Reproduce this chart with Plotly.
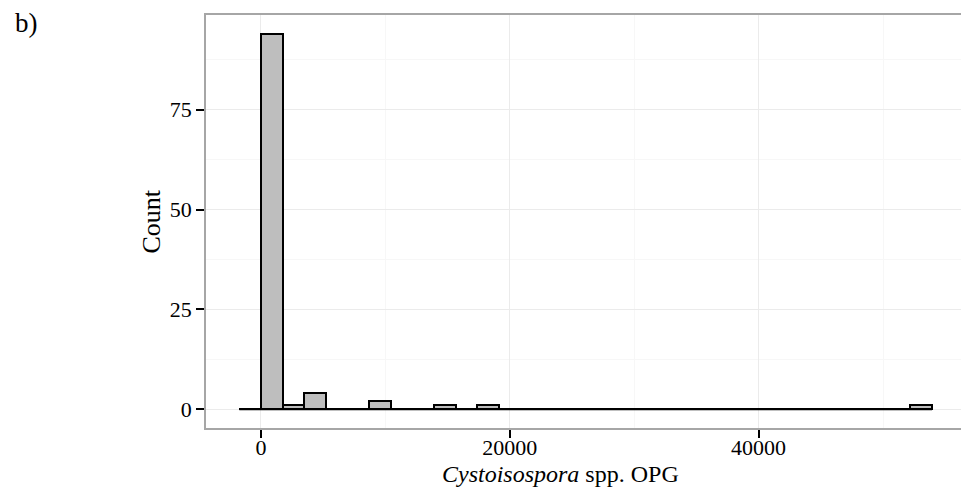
import plotly.graph_objects as go

# Histogram data
bin_start = -1740
bin_width = 1740
counts = [0, 94, 1, 4, 0, 0, 2, 0, 0, 1, 0, 1, 0, 0, 0, 0,
          0, 0, 0, 0, 0, 0, 0, 0, 0, 0, 0, 0, 0, 0, 0, 1]
x_ticks = [0, 20000, 40000]
y_ticks = [0, 25, 50, 75]

centers = [bin_start + (i + 0.5) * bin_width for i in range(len(counts))]
edges_lo = bin_start
edges_hi = bin_start + len(counts) * bin_width

FONT = "Liberation Serif, Times New Roman, serif"
L, R, T, B = 206, 0, 15, 67
W, H = 961, 495
PW, PH = W - L - R, H - T - B

fig = go.Figure()
fig.add_trace(go.Bar(
    x=centers, y=counts, width=bin_width,
    marker=dict(color="#bebebe", line=dict(color="black", width=2)),
    showlegend=False, hoverinfo="skip",
))
fig.add_trace(go.Scatter(
    x=[edges_lo, edges_hi], y=[0, 0], mode="lines",
    line=dict(color="black", width=2), showlegend=False, hoverinfo="skip",
))

fig.update_layout(
    width=W, height=H,
    margin=dict(l=L, r=R, t=T, b=B),
    plot_bgcolor="white", paper_bgcolor="white",
    font=dict(family=FONT, size=22, color="black"),
    bargap=0,
    xaxis=dict(
        range=[-4420, 56270],
        tickvals=x_ticks, ticktext=[str(v) for v in x_ticks],
        ticks="outside", ticklen=8, tickwidth=2, tickcolor="black",
        ticklabelstandoff=-9,
        showgrid=True, gridcolor="#ebebeb", gridwidth=1,
        minor=dict(dtick=10000, tick0=0, showgrid=True, gridcolor="#f7f7f7", gridwidth=1),
        showline=True, linecolor="#a6a6a6", linewidth=1.5, mirror=True,
        zeroline=False,
        tickfont=dict(size=22),
    ),
    yaxis=dict(
        range=[-4.7, 98.7],
        tickvals=y_ticks, ticktext=[str(v) for v in y_ticks],
        ticks="outside", ticklen=8, tickwidth=2, tickcolor="black",
        showgrid=True, gridcolor="#ebebeb", gridwidth=1,
        minor=dict(dtick=12.5, tick0=0, showgrid=True, gridcolor="#f7f7f7", gridwidth=1),
        showline=True, linecolor="#a6a6a6", linewidth=1.5, mirror=False,
        zeroline=False,
        tickfont=dict(size=22),
    ),
    annotations=[
        dict(text="b)", xref="paper", yref="paper",
             x=(13 - L) / PW, y=(H - B - 6) / PH,
             xanchor="left", yanchor="top", showarrow=False,
             font=dict(family=FONT, size=27, color="black")),
        dict(text="<i>Cystoisospora</i> spp. OPG", xref="paper", yref="paper",
             x=(560 - L) / PW, y=-(474 - (H - B)) / PH,
             xanchor="center", yanchor="middle", showarrow=False,
             font=dict(family=FONT, size=24, color="black")),
        dict(text="Count", xref="paper", yref="paper",
             x=(151 - L) / PW, y=0.5, textangle=-90,
             xanchor="center", yanchor="middle", showarrow=False,
             font=dict(family=FONT, size=26, color="black")),
    ],
)

fig.write_html("out.html")
